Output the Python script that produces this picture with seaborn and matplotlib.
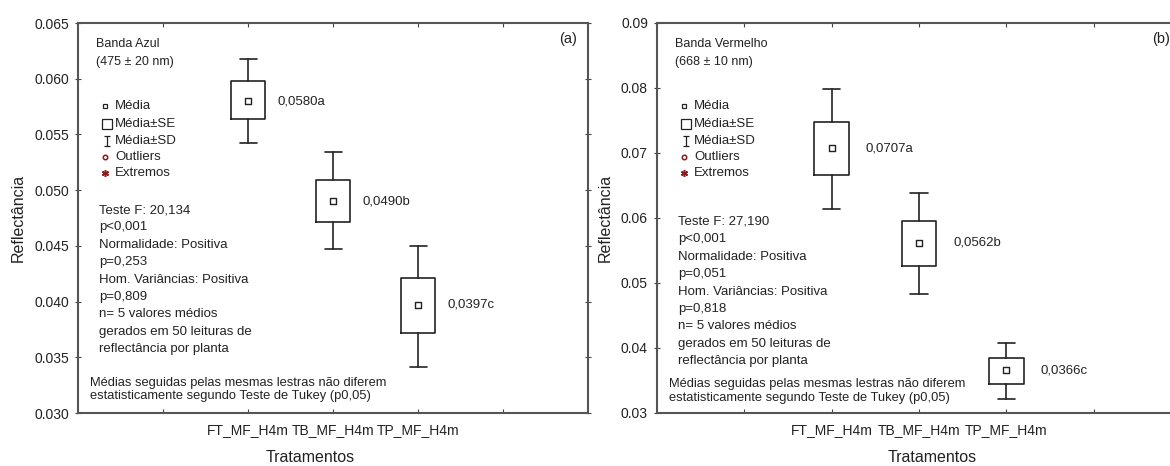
import numpy as np
import pandas as pd
import matplotlib
matplotlib.use('Agg')
import matplotlib.pyplot as plt
import seaborn as sns
from matplotlib.path import Path

# Dados
tratamentos = ['FT_MF_H4m', 'TB_MF_H4m', 'TP_MF_H4m']

# (a) Banda Azul
azul_media = [0.0580, 0.0490, 0.0397]
azul_se_lo = [0.0564, 0.0471, 0.0372]
azul_se_hi = [0.0598, 0.0509, 0.0421]
azul_sd_lo = [0.0542, 0.0447, 0.0341]
azul_sd_hi = [0.0618, 0.0534, 0.0450]
azul_rotulos = ['0,0580a', '0,0490b', '0,0397c']
azul_stats = ['Teste F: 20,134', 'p<0,001', 'Normalidade: Positiva', 'p=0,253',
              'Hom. Variâncias: Positiva', 'p=0,809', 'n= 5 valores médios',
              'gerados em 50 leituras de', 'reflectância por planta']

# (b) Banda Vermelho
verm_media = [0.0707, 0.0562, 0.0366]
verm_se_lo = [0.0666, 0.0526, 0.0344]
verm_se_hi = [0.0748, 0.0596, 0.0384]
verm_sd_lo = [0.0614, 0.0483, 0.0322]
verm_sd_hi = [0.0798, 0.0639, 0.0407]
verm_rotulos = ['0,0707a', '0,0562b', '0,0366c']
verm_stats = ['Teste F: 27,190', 'p<0,001', 'Normalidade: Positiva', 'p=0,051',
              'Hom. Variâncias: Positiva', 'p=0,818', 'n= 5 valores médios',
              'gerados em 50 leituras de', 'reflectância por planta']

nota = ['Médias seguidas pelas mesmas lestras não diferem',
        'estatisticamente segundo Teste de Tukey (p0,05)']

sns.set_style('white')
plt.rcParams['font.family'] = ['Liberation Sans', 'DejaVu Sans']

FIG_H = 466
COR = '#222222'
VERMELHO = '#8b1a1a'

# marcador em forma de "I" para o SD
i_path = Path([(-0.5, 1), (0.5, 1), (0, 1), (0, -1), (-0.5, -1), (0.5, -1)],
              [Path.MOVETO, Path.LINETO, Path.MOVETO, Path.LINETO, Path.MOVETO, Path.LINETO])


def painel(ax, media, se_lo, se_hi, sd_lo, sd_hi, rotulos, titulo, stats, ylim, yticks, yfmt,
           letra, dx_rot, xlab_pos, stats_y0, nota_y):
    pos = np.arange(len(tratamentos))
    df = pd.DataFrame({'x': pos, 'media': media})
    caixas = [dict(med=m, q1=a, q3=b, whislo=c, whishi=d, mean=m)
              for m, a, b, c, d in zip(media, se_lo, se_hi, sd_lo, sd_hi)]
    ax.bxp(caixas, positions=pos, widths=0.4, capwidths=0.2, showmeans=False, showfliers=False,
           boxprops=dict(color=COR, lw=1.2), whiskerprops=dict(color=COR, lw=1.2),
           capprops=dict(color=COR, lw=1.2), medianprops=dict(lw=0))
    sns.scatterplot(data=df, x='x', y='media', marker='s', s=14, color='white',
                    edgecolor=COR, linewidth=1.0, ax=ax, zorder=5, legend=False)
    for p, m, r in zip(pos, media, rotulos):
        ax.text(p + dx_rot, m, r, fontsize=9.5, va='center', ha='left', color=COR)

    ax.set_xlim(-2, 4)
    ax.set_ylim(*ylim)
    ax.set_xticks([-1, 0, 1, 2, 3])
    ax.set_xticklabels([''] + tratamentos + [''], fontsize=10, color=COR)
    ax.set_yticks(yticks)
    ax.set_yticklabels([yfmt.format(v) for v in yticks], fontsize=10, color=COR)
    ax.tick_params(axis='x', which='both', bottom=True, top=True, direction='in', length=3,
                   pad=7, color='#444444')
    ax.tick_params(axis='y', which='both', left=True, right=True, direction='inout', length=5,
                   pad=4, color='#444444')
    for s in ax.spines.values():
        s.set_color('#555555')
        s.set_linewidth(1.5)
    ax.set_ylabel('Reflectância', fontsize=11.5, color=COR, labelpad=6)
    ax.set_xlabel('Tratamentos', fontsize=11.5, color=COR)
    ax.xaxis.set_label_coords(xlab_pos, -0.095)

    # textos em coordenadas de pixels relativos ao eixo
    bb = ax.get_position()
    top_px = (1 - bb.y1) * FIG_H
    h_px = bb.height * FIG_H
    w_px = bb.width * 1170

    def t(xpx, ypx, s, **kw):
        ax.text(xpx / w_px, 1 - (ypx - top_px) / h_px, s, transform=ax.transAxes,
                va='center', color=COR, **kw)

    t(18, 44, titulo[0], fontsize=9)
    t(18, 62, titulo[1], fontsize=9)

    leg_y = [106, 124, 141, 157, 173]
    leg_x = [27, 29, 29, 27, 27]
    leg_txt = ['Média', 'Média±SE', 'Média±SD', 'Outliers', 'Extremos']
    leg_mk = [dict(marker='s', ms=3.2, mfc='white', mec=COR, mew=0.9),
              dict(marker='s', ms=7.2, mfc='white', mec=COR, mew=0.9),
              dict(marker=i_path, ms=7.5, mec=COR, mew=0.9),
              dict(marker='o', ms=3.2, mfc='none', mec=VERMELHO, mew=1.1),
              dict(marker=(6, 2, 0), ms=5, mec=VERMELHO, mew=1.1)]
    for yy, xx, tx, mk in zip(leg_y, leg_x, leg_txt, leg_mk):
        ax.plot([xx / w_px], [1 - (yy - top_px) / h_px], transform=ax.transAxes,
                ls='none', clip_on=False, **mk)
        t(37, yy, tx, fontsize=9.5)

    for i, linha in enumerate(stats):
        t(21, stats_y0 + i * 17.4, linha, fontsize=9.5)
    t(12, nota_y[0], nota[0], fontsize=9.3)
    t(12, nota_y[1], nota[1], fontsize=9.3)

    ax.text(1 - 20 / w_px, 1 - (39 - top_px) / h_px, letra, transform=ax.transAxes,
            ha='center', va='center', fontsize=10.5, color=COR)


fig = plt.figure(figsize=(11.7, 4.66), dpi=100)
ax1 = fig.add_axes([78 / 1170, 1 - 413 / 466, 510 / 1170, 390 / 466])
ax2 = fig.add_axes([657 / 1170, 1 - 413 / 466, 524 / 1170, 390 / 466])

painel(ax1, azul_media, azul_se_lo, azul_se_hi, azul_sd_lo, azul_sd_hi, azul_rotulos,
       ['Banda Azul', '(475 ± 20 nm)'], azul_stats, (0.030, 0.065),
       [0.030, 0.035, 0.040, 0.045, 0.050, 0.055, 0.060, 0.065], '{:.3f}',
       '(a)', 0.35, 0.455, 210, (383, 396))
painel(ax2, verm_media, verm_se_lo, verm_se_hi, verm_sd_lo, verm_sd_hi, verm_rotulos,
       ['Banda Vermelho', '(668 ± 10 nm)'], verm_stats, (0.03, 0.09),
       [0.03, 0.04, 0.05, 0.06, 0.07, 0.08, 0.09], '{:.2f}',
       '(b)', 0.39, 0.525, 222, (384, 398))

fig.savefig('out.png', dpi=100)
